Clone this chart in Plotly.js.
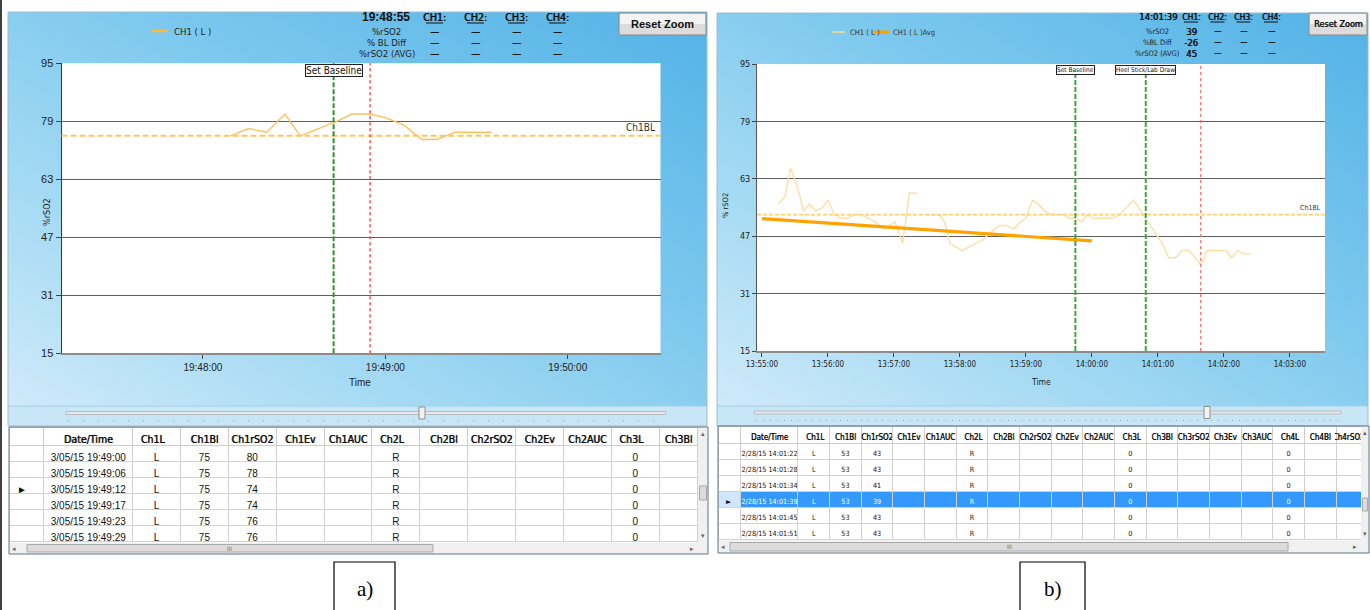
<!DOCTYPE html>
<html><head><meta charset="utf-8">
<script src="https://cdn.plot.ly/plotly-3.0.1.min.js"></script>
<style>html,body{margin:0;padding:0;background:#fff;overflow:hidden}#chart{width:1370px;height:610px}</style>
</head><body><div id="chart"></div>
<script>
// ================= DATA : panel a =================
const dayA = '2015-03-05';
const timeA = ['19:48:09','19:48:15','19:48:21','19:48:27','19:48:32','19:48:38','19:48:44','19:48:49','19:48:55','19:49:00','19:49:06','19:49:12','19:49:17','19:49:23','19:49:29','19:49:35'];
const rso2A = [75, 77, 76, 81, 75, 77, 79, 81, 81, 80, 78, 74, 74, 76, 76, 76];
const baselineA = 75;
const eventTimesA = ['19:48:43'];
const eventLabelsA = ['Set Baseline'];
const cursorTimeA = '19:48:55';
const rangeA = ['19:47:13.5', '19:50:30.5'];
const yTicks = [15, 31, 47, 63, 79, 95];

// ================= DATA : panel b =================
const dayB = '2015-02-28';
const timeB = ['13:55:15','13:55:21','13:55:26','13:55:32','13:55:38','13:55:43','13:55:49','13:55:55','13:56:00','13:56:06','13:56:12','13:56:18','13:56:24','13:56:30','13:56:37','13:56:43','13:56:51','13:57:01','13:57:08','13:57:14','13:57:22','13:57:28','13:57:35','13:57:41','13:57:46','13:57:51','13:58:02','13:58:14','13:58:21','13:58:28','13:58:36','13:58:42','13:58:49','13:58:55','13:59:00','13:59:06','13:59:11','13:59:17','13:59:23','13:59:34','13:59:40','13:59:45','13:59:51','13:59:56','14:00:01','14:00:19','14:00:25','14:00:38','14:00:47','14:00:53','14:01:04','14:01:10','14:01:16','14:01:22','14:01:28','14:01:34','14:01:39','14:01:45','14:02:02','14:02:07','14:02:13','14:02:18','14:02:24'];
const rso2B = [56,58,66,61,54,56,54,55,57,53,52,52,53,53,52,51,49,51,45,59,59,null,53,53,51,45,43,45,46,48,50,50,49,51,52,57,56,54,53,53,52,52,51,53,52,52,53,57,53,50,45,41,41,43,43,41,39,43,43,41,43,42,42];
const avgTimeB = ['13:55:00', '14:00:00'];
const avgB = [51.9, 45.7];
const baselineB = 53;
const eventTimesB = ['13:59:45', '14:00:49'];
const eventLabelsB = ['Set Baseline', 'Heel Stick/Lab Draw'];
const cursorTimeB = '14:01:39';
const rangeB = ['13:54:55.5', '14:03:32'];

// ================= DATA : readouts =================
const channelNames = ['CH1:', 'CH2:', 'CH3:', 'CH4:'];
const readoutLabelsA = ['%rSO2', '% BL Diff', '%rSO2 (AVG)'];
const readoutLabelsB = ['%rSO2', '%BL Diff', '%rSO2 (AVG)'];
const ch1ReadoutA = ['—', '—', '—'];
const ch1ReadoutB = ['39', '-26', '45'];
const legendA = ['CH1 ( L )'];
const legendB = ['CH1 ( L )', 'CH1 ( L )Avg'];

// ================= DATA : tables =================
const headersA = ['', 'Date/Time', 'Ch1L', 'Ch1Bl', 'Ch1rSO2', 'Ch1Ev', 'Ch1AUC', 'Ch2L', 'Ch2Bl', 'Ch2rSO2', 'Ch2Ev', 'Ch2AUC', 'Ch3L', 'Ch3Bl'];
const tDateA = ['3/05/15 19:49:00','3/05/15 19:49:06','3/05/15 19:49:12','3/05/15 19:49:17','3/05/15 19:49:23','3/05/15 19:49:29'];
const tCh1LA = ['L','L','L','L','L','L'];
const tCh1BlA = [75, 75, 75, 75, 75, 75];
const tCh1rSO2A = [80, 78, 74, 74, 76, 76];
const tCh2LA = ['R','R','R','R','R','R'];
const tCh3LA = [0, 0, 0, 0, 0, 0];
const currentRowA = 2;

const headersB = ['', 'Date/Time', 'Ch1L', 'Ch1Bl', 'Ch1rSO2', 'Ch1Ev', 'Ch1AUC', 'Ch2L', 'Ch2Bl', 'Ch2rSO2', 'Ch2Ev', 'Ch2AUC', 'Ch3L', 'Ch3Bl', 'Ch3rSO2', 'Ch3Ev', 'Ch3AUC', 'Ch4L', 'Ch4Bl', 'Ch4rSO2'];
const tDateB = ['2/28/15 14:01:22','2/28/15 14:01:28','2/28/15 14:01:34','2/28/15 14:01:39','2/28/15 14:01:45','2/28/15 14:01:51'];
const tCh1LB = ['L','L','L','L','L','L'];
const tCh1BlB = [53, 53, 53, 53, 53, 53];
const tCh1rSO2B = [43, 43, 41, 39, 43, 43];
const tCh2LB = ['R','R','R','R','R','R'];
const tCh3LB = [0, 0, 0, 0, 0, 0];
const tCh4LB = [0, 0, 0, 0, 0, 0];
const currentRowB = 3;

// ================= helpers =================
const W = 1370, H = 610;
const X = p => p / W, Y = p => 1 - p / H;
const NARROW = "'Liberation Sans Narrow', 'DejaVu Sans Condensed', 'Arial Narrow', sans-serif";
const SANS = "'Liberation Sans', Arial, sans-serif";
const SERIF = "'Liberation Serif', 'Times New Roman', serif";
const FAUXBOLD = '0.55px 0 0 #111';
const shapes = [], annotations = [], images = [];

function rect(x0, y0, x1, y1, fill, line, lw, layer) {
  shapes.push({type:'rect', xref:'paper', yref:'paper', x0:X(x0), x1:X(x1), y0:Y(y0), y1:Y(y1),
    fillcolor: fill || 'rgba(0,0,0,0)', line:{color: line || 'rgba(0,0,0,0)', width: line ? (lw || 1) : 0}, layer: layer || 'above'});
}
function hline(x0, x1, y, color, w, dash, layer) {
  shapes.push({type:'line', xref:'paper', yref:'paper', x0:X(x0), x1:X(x1), y0:Y(y), y1:Y(y),
    line:{color, width: w || 1, dash: dash || 'solid'}, layer: layer || 'above'});
}
function vline(x, y0, y1, color, w, layer) {
  shapes.push({type:'line', xref:'paper', yref:'paper', x0:X(x), x1:X(x), y0:Y(y0), y1:Y(y1),
    line:{color, width: w || 1}, layer: layer || 'above'});
}
function txt(x, y, text, size, family, opts) {
  opts = opts || {};
  const font = {family: family || SANS, size, color: opts.color || '#111'};
  if (opts.faux) font.shadow = opts.faux === true ? FAUXBOLD : opts.faux;
  annotations.push({xref:'paper', yref:'paper', x:X(x), y:Y(y), text, showarrow:false,
    xanchor: opts.anchor || 'center', yanchor: 'middle', textangle: opts.angle || 0, font});
}
function gradSrc(w, h) {
  const svg = `<svg xmlns='http://www.w3.org/2000/svg' width='${w}' height='${h}' preserveAspectRatio='none'>` +
    `<defs><linearGradient id='g' x1='0' y1='1' x2='1' y2='0'>` +
    `<stop offset='0' stop-color='#cfeafa'/><stop offset='0.3' stop-color='#a3d9f3'/>` +
    `<stop offset='0.6' stop-color='#7cc8ee'/><stop offset='1' stop-color='#52b2e6'/>` +
    `</linearGradient></defs><rect width='${w}' height='${h}' fill='url(#g)'/></svg>`;
  return 'data:image/svg+xml;charset=utf-8,' + encodeURIComponent(svg);
}
function panelBg(x0, y0, x1, y1) {
  images.push({source: gradSrc(x1 - x0, y1 - y0), xref:'paper', yref:'paper', x:X(x0), y:Y(y0),
    sizex:(x1 - x0) / W, sizey:(y1 - y0) / H, xanchor:'left', yanchor:'top', sizing:'stretch', layer:'below'});
}

// ================= geometry =================
const PA = {l:61.5, r:660.5, t:63.3, b:353.3};
const PB = {l:757, r:1325, t:64, b:351};

vline(1, 0, 610, '#000', 1.5);

panelBg(8, 12, 707, 406);
panelBg(717, 13, 1368, 406);
rect(8, 406, 707, 426, '#c7e7f7', null, 0, 'below');
rect(717, 406, 1368, 426, '#c7e7f7', null, 0, 'below');
hline(8, 707, 406, '#a8cfe5', 1, 'solid', 'below');
hline(717, 1368, 406, '#a8cfe5', 1, 'solid', 'below');
rect(8, 12, 707, 426, null, '#9fbccd', 1, 'below');
rect(717, 13, 1368, 426, null, '#9fbccd', 1, 'below');
rect(PA.l, PA.t, PA.r, PA.b, '#ffffff', null, 0, 'below');
rect(PB.l, PB.t, PB.r, PB.b, '#ffffff', null, 0, 'below');

function slider(x0, x1, y, thumb, tickGap) {
  rect(x0, y - 1.5, x1, y + 1.5, '#e4e8ea', '#b5bcc2', 1);
  hline(x0 + 2, x1 - 2, y + 8, '#8fa3b0', 1, '1px,' + tickGap + 'px');
  rect(thumb - 3, y - 6, thumb + 3, y + 6, '#f2f2f2', '#8e8e8e', 1);
}
slider(66, 666, 413, 422, 14);
slider(754, 1341, 412.5, 1207, 6);

function button(x0, y0, x1, y1, text, size, family, faux) {
  rect(x0, y0, x1, y1, '#dcdcdc', '#8a8a8a', 1);
  rect(x0 + 1, y0 + 1, x1 - 1, (y0 + y1) / 2, '#f3f3f3', null);
  txt((x0 + x1) / 2, (y0 + y1) / 2 + 0.5, text, size, family, {color:'#111', faux});
}
button(619, 13, 706, 35, '<b>Reset Zoom</b>', 11, SANS, false);
button(1309, 13, 1367, 35, 'Reset Zoom', 9, NARROW, true);

// ---- header readouts a ----
txt(386, 17, '<b>' + cursorTimeA + '</b>', 12, SANS);
const chXA = [434.5, 475.5, 516.5, 557.5];
channelNames.forEach((c, i) => {
  txt(chXA[i], 17, c, 10.5, NARROW, {faux:true});
  hline(chXA[i] - 8.5, chXA[i] + 8.5, 23, '#111', 1);
});
readoutLabelsA.forEach((l, r) => {
  txt(387, 31 + 11 * r, l, 9.5, NARROW, {color:'#222'});
  chXA.forEach((cx, i) => txt(cx, 31 + 11 * r, i === 0 ? ch1ReadoutA[r] : '—', 10, NARROW, {faux:true}));
});
hline(152, 168, 31, '#ffb938', 2.5);
txt(172, 31, legendA[0], 9.5, NARROW, {anchor:'left', color:'#222'});

// ---- header readouts b ----
txt(1157.5, 17, cursorTimeB, 9.5, NARROW, {faux:true});
const chXB = [1191, 1217.5, 1243.5, 1271];
channelNames.forEach((c, i) => {
  txt(chXB[i], 17, c, 8.5, NARROW, {faux:true});
  hline(chXB[i] - 7, chXB[i] + 7, 22, '#111', 1);
});
readoutLabelsB.forEach((l, r) => {
  txt(1157, 31 + 11 * r, l, 7.5, NARROW, {color:'#222'});
  chXB.forEach((cx, i) => txt(cx, 31 + 11 * r, i === 0 ? ch1ReadoutB[r] : '—', i === 0 ? 9.5 : 8, NARROW, {faux:true}));
});
hline(832, 845, 32, '#ffd995', 1.5);
txt(848, 32, legendB[0], 7.5, NARROW, {anchor:'left', color:'#333'});
hline(874, 889, 32, '#ffa200', 3);
txt(891, 32, legendB[1], 7.5, NARROW, {anchor:'left', color:'#333'});

txt(360, 382, 'Time', 10, SANS, {color:'#222'});
txt(47, 212, '%rSO2', 9, NARROW, {angle:-90, color:'#222'});
txt(1041, 382, 'Time', 8.5, NARROW, {color:'#222'});
txt(725, 206, '% rSO2', 7.5, NARROW, {angle:-90, color:'#222'});

const tA = t => dayA + ' ' + t, tB = t => dayB + ' ' + t;
shapes.push({type:'line', xref:'x domain', yref:'y', x0:0, x1:1, y0:baselineA, y1:baselineA,
  line:{color:'#ffc65e', width:2, dash:'6px,3px'}, layer:'above'});
shapes.push({type:'line', xref:'x2 domain', yref:'y2', x0:0, x1:1, y0:baselineB, y1:baselineB,
  line:{color:'#ffcf70', width:1.6, dash:'4px,2px'}, layer:'above'});
eventTimesA.forEach((t, i) => {
  shapes.push({type:'line', xref:'x', yref:'y domain', x0:tA(t), x1:tA(t), y0:0, y1:1,
    line:{color:'#2b962b', width:2, dash:'5px,2px'}, layer:'above'});
  annotations.push({xref:'x', yref:'paper', x:tA(t), y:Y(70), text:eventLabelsA[i], showarrow:false,
    xanchor:'center', yanchor:'middle', bgcolor:'#fff', bordercolor:'#222', borderwidth:1, borderpad:0,
    font:{family:NARROW, size:10, color:'#111'}});
});
shapes.push({type:'line', xref:'x', yref:'y domain', x0:tA(cursorTimeA), x1:tA(cursorTimeA), y0:0, y1:1,
  line:{color:'#ff4a4a', width:1.5, dash:'dot'}, layer:'above'});
eventTimesB.forEach((t, i) => {
  shapes.push({type:'line', xref:'x2', yref:'y2 domain', x0:tB(t), x1:tB(t), y0:0, y1:1,
    line:{color:'#3aaa3a', width:2, dash:'5px,2px'}, layer:'above'});
  annotations.push({xref:'x2', yref:'paper', x:tB(t), y:Y(70), text:eventLabelsB[i], showarrow:false,
    xanchor:'center', yanchor:'middle', bgcolor:'#fff', bordercolor:'#222', borderwidth:1, borderpad:0,
    font:{family:NARROW, size:6.5, color:'#111'}});
});
shapes.push({type:'line', xref:'x2', yref:'y2 domain', x0:tB(cursorTimeB), x1:tB(cursorTimeB), y0:0, y1:1,
  line:{color:'#ff7070', width:1.3, dash:'dot'}, layer:'above'});
annotations.push({xref:'paper', yref:'y', x:X(657), y:baselineA, text:'Ch1BL', showarrow:false,
  xanchor:'right', yanchor:'bottom', yshift:1, font:{family:NARROW, size:10, color:'#333'}});
annotations.push({xref:'paper', yref:'y2', x:X(1323), y:baselineB, text:'Ch1BL', showarrow:false,
  xanchor:'right', yanchor:'bottom', yshift:1, font:{family:NARROW, size:7, color:'#333'}});

// ---- tables ----
const nb = s => s.replace(' ', '\u00a0');
const blank = () => tDateA.map(() => '');
const markerCol = (n, cur) => Array.from({length:n}, (_, i) => i === cur ? '►' : '');
const cellsA = [markerCol(6, currentRowA), tDateA.map(nb), tCh1LA, tCh1BlA, tCh1rSO2A, blank(), blank(),
  tCh2LA, blank(), blank(), blank(), blank(), tCh3LA, blank()];
const cellsB = [markerCol(6, currentRowB), tDateB.map(nb), tCh1LB, tCh1BlB, tCh1rSO2B, blank(), blank(),
  tCh2LB, blank(), blank(), blank(), blank(), tCh3LB, blank(), blank(), blank(), blank(), tCh4LB, blank(), blank()];
const widthsA = [35, 89].concat(Array(11).fill(48)).concat([39]);
const widthsB = [23, 57].concat(Array(17).fill(31.65)).concat([25]);
const hAlign = h => (/^Ch\dL$/.test(h) ? 'left' : 'center');
const cAlign = cols => cols.map((_, i) => i === 0 ? 'left' : 'center');
const fillB = cellsB.map((_, c) => tDateB.map((_, r) => r === currentRowB ? (c === 0 ? '#cfe7f8' : '#3399ff') : '#ffffff'));
const fontColB = cellsB.map((_, c) => tDateB.map((_, r) => (r === currentRowB && c > 0) ? '#ffffff' : '#111111'));

const traces = [
  {type:'scatter', mode:'lines', x:timeA.map(tA), y:rso2A, xaxis:'x', yaxis:'y',
    line:{color:'#ffc15c', width:1.4}, hoverinfo:'skip'},
  {type:'scatter', mode:'lines', x:timeB.map(tB), y:rso2B, xaxis:'x2', yaxis:'y2', connectgaps:false,
    line:{color:'#ffdea4', width:1.4}, hoverinfo:'skip'},
  {type:'scatter', mode:'lines', x:avgTimeB.map(tB), y:avgB, xaxis:'x2', yaxis:'y2',
    line:{color:'#ffa200', width:3.2}, hoverinfo:'skip'},
  {type:'table', domain:{x:[X(9), X(698)], y:[Y(542.5), Y(427)]}, columnwidth:widthsA,
    header:{values:headersA, height:18, align:headersA.map(hAlign), fill:{color:'#ffffff'},
      line:{color:'#cccccc', width:1}, font:{family:NARROW, size:10.5, color:'#111', shadow:FAUXBOLD}},
    cells:{values:cellsA, height:16, align:cAlign(cellsA), fill:{color:'#ffffff'},
      line:{color:'#d2d2d2', width:1}, font:{family:SANS, size:10, color:'#111'}}},
  {type:'table', domain:{x:[X(718), X(1361)], y:[Y(540.5), Y(426)]}, columnwidth:widthsB,
    header:{values:headersB, height:17, align:headersB.map(hAlign), fill:{color:'#ffffff'},
      line:{color:'#cccccc', width:1}, font:{family:NARROW, size:8, color:'#111', shadow:'0.4px 0 0 #111'}},
    cells:{values:cellsB, height:16, align:cAlign(cellsB), fill:{color:fillB},
      line:{color:'#d2d2d2', width:1}, font:{family:NARROW, size:7.2, color:fontColB}}}
];

function scrollbars(tx0, tx1, ty0, ty1, vx, hy, hThumb, vThumb) {
  rect(tx0, hy, tx1, ty1, '#f0f0f0', null);
  rect(vx, ty0, tx1, hy, '#f0f0f0', null);
  rect(hThumb[0], hy + 2, hThumb[1], ty1 - 2, '#dcdcdc', '#a9a9a9', 1);
  txt((hThumb[0] + hThumb[1]) / 2, (hy + ty1) / 2, 'III', 6, NARROW, {color:'#666'});
  txt(tx0 + 5, (hy + ty1) / 2, '◂', 7, SANS, {color:'#666'});
  txt(vx - 6, (hy + ty1) / 2, '▸', 7, SANS, {color:'#666'});
  rect(vx + 1.5, vThumb[0], tx1 - 1.5, vThumb[1], '#dcdcdc', '#a9a9a9', 1);
  txt((vx + tx1) / 2, ty0 + 6, '▴', 7, SANS, {color:'#666'});
  txt((vx + tx1) / 2, hy - 7, '▾', 7, SANS, {color:'#666'});
  rect(tx0, ty0, tx1, ty1, null, '#5e7687', 1);
}
scrollbars(9, 708, 427, 554, 698, 542.5, [27, 433], [486, 500]);
scrollbars(718, 1369, 426, 553, 1361, 540.5, [730, 1288], [498, 511]);

rect(334, 562, 395, 612, null, '#000', 1.2);
txt(364.5, 589, 'a)', 21, SERIF, {color:'#000'});
rect(1020, 562, 1085, 612, null, '#000', 1.2);
txt(1052.5, 589, 'b)', 21, SERIF, {color:'#000'});

const axCommon = {showgrid:false, zeroline:false, ticks:'outside', tickcolor:'#444', fixedrange:true};
const layout = {
  width:W, height:H, margin:{l:0, r:0, t:0, b:0}, paper_bgcolor:'#ffffff', plot_bgcolor:'rgba(0,0,0,0)',
  showlegend:false, hovermode:false,
  xaxis:Object.assign({}, axCommon, {type:'date', domain:[X(PA.l), X(PA.r)], range:rangeA.map(tA), anchor:'y',
    tickformat:'%H:%M:%S', dtick:60000, tick0:tA('19:48:00'), ticklen:4, showline:true, linecolor:'#8c8c8c', linewidth:2,
    tickfont:{family:SANS, size:10, color:'#222'}}),
  yaxis:Object.assign({}, axCommon, {domain:[Y(PA.b), Y(PA.t)], range:[15, 95], anchor:'x', tickmode:'array', tickvals:yTicks,
    ticklen:5, showgrid:true, gridcolor:'#5e5e5e', gridwidth:1.2, showline:true, linecolor:'#333', linewidth:1,
    tickfont:{family:SANS, size:11, color:'#222'}}),
  xaxis2:Object.assign({}, axCommon, {type:'date', domain:[X(PB.l), X(PB.r)], range:rangeB.map(tB), anchor:'y2',
    tickformat:'%H:%M:%S', dtick:60000, tick0:tB('13:55:00'), ticklen:4, showline:true, linecolor:'#8c8c8c', linewidth:2,
    tickfont:{family:NARROW, size:8, color:'#222'}}),
  yaxis2:Object.assign({}, axCommon, {domain:[Y(PB.b), Y(PB.t)], range:[15, 95], anchor:'x2', tickmode:'array', tickvals:yTicks,
    ticklen:4, showgrid:true, gridcolor:'#5e5e5e', gridwidth:1.2, showline:true, linecolor:'#555', linewidth:1,
    tickfont:{family:NARROW, size:9, color:'#222'}}),
  shapes, annotations, images
};
Plotly.newPlot('chart', traces, layout, {staticPlot:true, displayModeBar:false});
</script></body></html>
